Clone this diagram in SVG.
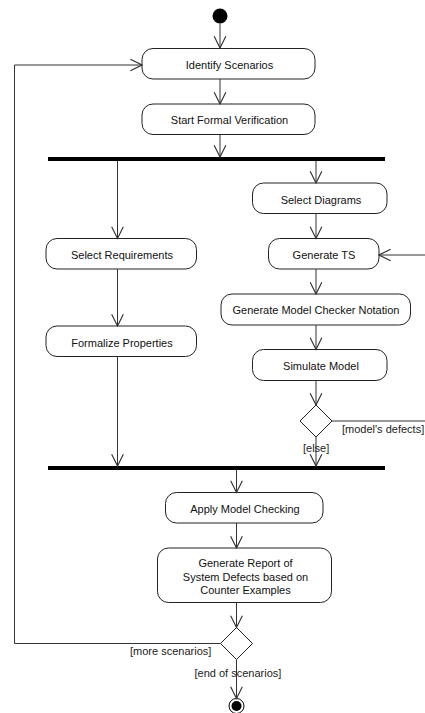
<svg xmlns="http://www.w3.org/2000/svg" width="425" height="713" viewBox="0 0 425 713">
<style>
.box{fill:#fff;stroke:#222;stroke-width:1}
.t{font-family:"Liberation Sans",Arial,sans-serif;font-size:11px;fill:#111;text-anchor:middle;dominant-baseline:central}
.g{font-family:"Liberation Sans",Arial,sans-serif;font-size:11px;fill:#222;dominant-baseline:central}
.c{fill:none;stroke:#333;stroke-width:1}
.bar{fill:#000}
</style>
<defs>
<marker id="ah" markerUnits="userSpaceOnUse" markerWidth="14" markerHeight="14" viewBox="-11 -6 12 12" refX="0" refY="0" orient="auto">
<path d="M-10,-5 L0,0 L-10,5" fill="none" stroke="#333" stroke-width="1"/>
</marker>
</defs>
<rect width="425" height="713" fill="#fff"/>
<g id="start"><circle cx="220" cy="16" r="7.5" fill="#000"/></g>
<g id="fork"><rect class="bar" x="48" y="157" width="337" height="4"/></g>
<g id="join"><rect class="bar" x="48" y="466" width="337" height="4"/></g>
<g id="identify"><rect class="box" x="142" y="48.5" width="173" height="30.5" rx="11"/><text class="t" x="229.5" y="64.5">Identify Scenarios</text></g>
<g id="startfv"><rect class="box" x="142" y="104" width="173" height="30.5" rx="11"/><text class="t" x="229.5" y="120">Start Formal Verification</text></g>
<g id="selreq"><rect class="box" x="46" y="238.5" width="150.5" height="30.5" rx="11"/><text class="t" x="122" y="255">Select Requirements</text></g>
<g id="formalize"><rect class="box" x="46" y="326" width="150.5" height="30.5" rx="11"/><text class="t" x="122" y="342.5">Formalize Properties</text></g>
<g id="seldiag"><rect class="box" x="252.5" y="183" width="134.5" height="30.5" rx="11"/><text class="t" x="321" y="199.5">Select Diagrams</text></g>
<g id="gents"><rect class="box" x="268.5" y="238.5" width="110.5" height="30.5" rx="11"/><text class="t" x="324" y="255">Generate TS</text></g>
<g id="genmcn"><rect class="box" x="221" y="294" width="189.5" height="31" rx="11"/><text class="t" x="316" y="310">Generate Model Checker Notation</text></g>
<g id="simulate"><rect class="box" x="252.5" y="349.5" width="134.5" height="31" rx="11"/><text class="t" x="321" y="366">Simulate Model</text></g>
<g id="dec1"><path class="box" d="M316,405 L332,421 L316,437 L300,421 Z"/></g>
<g id="apply"><rect class="box" x="165.5" y="492.5" width="157.5" height="30.5" rx="11"/><text class="t" x="245" y="509">Apply Model Checking</text></g>
<g id="report"><rect class="box" x="157.5" y="548" width="174" height="54.5" rx="11"/><text class="t" x="245.5" y="563">Generate Report of</text><text class="t" x="245.5" y="576.5">System Defects based on</text><text class="t" x="245.5" y="590">Counter Examples</text></g>
<g id="dec2"><path class="box" d="M236.5,627.5 L252.5,643.5 L236.5,659.5 L220.5,643.5 Z"/></g>
<g id="final"><circle cx="236.5" cy="706" r="7.5" fill="#fff" stroke="#000" stroke-width="1"/><circle cx="236.5" cy="706" r="5" fill="#000"/></g>
<g id="connectors">
<path class="c" d="M220,23.5 V48" marker-end="url(#ah)"/>
<path class="c" d="M220,79 V104" marker-end="url(#ah)"/>
<path class="c" d="M220,134.5 V157" marker-end="url(#ah)"/>
<path class="c" d="M117.5,161 V238.5" marker-end="url(#ah)"/>
<path class="c" d="M117.5,269 V326" marker-end="url(#ah)"/>
<path class="c" d="M117.5,356.5 V466" marker-end="url(#ah)"/>
<path class="c" d="M316,161 V183" marker-end="url(#ah)"/>
<path class="c" d="M316,213.5 V238.5" marker-end="url(#ah)"/>
<path class="c" d="M316,269 V294" marker-end="url(#ah)"/>
<path class="c" d="M316,325 V349.5" marker-end="url(#ah)"/>
<path class="c" d="M316,380.5 V405" marker-end="url(#ah)"/>
<path class="c" d="M316,437 V466" marker-end="url(#ah)"/>
<path class="c" d="M332,421 H426"/>
<path class="c" d="M426,255 H379" marker-end="url(#ah)"/>
<path class="c" d="M236.5,470 V492.5" marker-end="url(#ah)"/>
<path class="c" d="M236.5,523 V548" marker-end="url(#ah)"/>
<path class="c" d="M236.5,602.5 V627.5" marker-end="url(#ah)"/>
<path class="c" d="M236.5,659.5 V698.5" marker-end="url(#ah)"/>
<path class="c" d="M220.5,643.5 H14.5 V65 H142" marker-end="url(#ah)"/>
<text class="g" x="342" y="428.5">[model's defects]</text>
<text class="g" x="303" y="447.5">[else]</text>
<text class="g" x="130" y="651">[more scenarios]</text>
<text class="g" x="194.5" y="672.5">[end of scenarios]</text>
</g>
</svg>
